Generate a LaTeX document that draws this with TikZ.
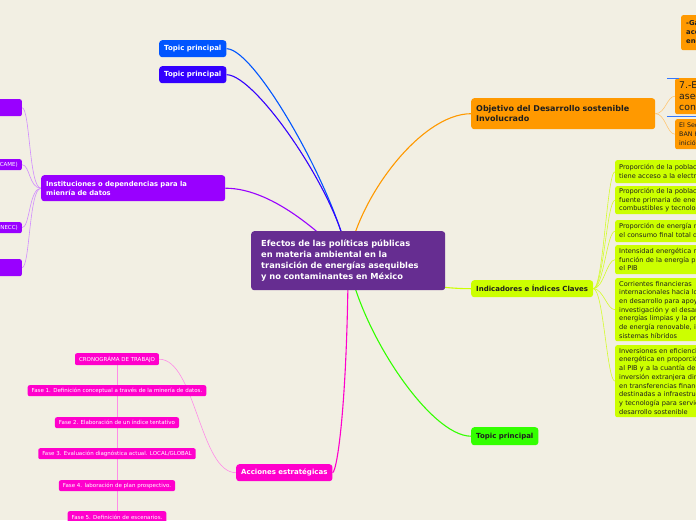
\documentclass[tikz,border=0pt]{standalone}
\usepackage{fontspec}
\setmainfont{DejaVu Sans}
\usetikzlibrary{positioning}
\pgfdeclarelayer{background}
\pgfsetlayers{background,main}

\definecolor{paper}{RGB}{242,239,227}
\definecolor{rootpurple}{RGB}{102,45,145}
\definecolor{topicblue}{RGB}{0,85,255}
\definecolor{topicindigo}{RGB}{51,0,255}
\definecolor{instpurple}{RGB}{153,0,255}
\definecolor{accmagenta}{RGB}{255,0,204}
\definecolor{sdgorange}{RGB}{255,153,0}
\definecolor{indlime}{RGB}{204,255,0}
\definecolor{topicgreen}{RGB}{51,255,0}
\definecolor{darktext}{RGB}{30,30,30}

\newcommand{\fs}[2]{\fontsize{#1}{#2}\selectfont}

\tikzset{
  box/.style={rounded corners=3pt, anchor=north west, align=left, inner ysep=0pt},
  root/.style={box, fill=rootpurple, text=white, inner xsep=10pt, font=\bfseries\fs{8.3}{10.8}},
  topic/.style={box, inner xsep=5pt, minimum height=17pt, font=\bfseries\fs{7}{9}},
  instleaf/.style={box, rounded corners=2pt, anchor=north east, inner xsep=4pt, minimum height=11pt,
    fill=instpurple, text=white, font=\fs{5.5}{6.5}},
  phase/.style={box, rounded corners=2pt, anchor=north, inner xsep=4pt, minimum height=11pt,
    fill=accmagenta, text=white, font=\fs{5.5}{6.5}},
  indleaf/.style={box, rounded corners=2pt, inner xsep=4pt, text width=150pt,
    fill=indlime, text=darktext, font=\fs{6.6}{8.7}},
  sdgleaf/.style={box, rounded corners=2pt, inner xsep=4pt, text width=90pt,
    fill=sdgorange, text=darktext},
  branch/.style={line width=1.1pt},
  twig/.style={line width=0.6pt},
}

\begin{document}
\begin{tikzpicture}[x=1pt, y=1pt]
  \useasboundingbox (0,0) rectangle (696,-520);

  % centre
  \node[root, text width=174pt, minimum height=59pt] (efectos) at (251,-231)
    {Efectos de las políticas públicas\\en materia ambiental en la\\transición de energías asequibles\\y no contaminantes en México};

  % main topics
  \node[topic, fill=topicblue, text=white] (topicA) at (159,-40) {Topic principal};
  \node[topic, fill=topicindigo, text=white] (topicB) at (159,-66) {Topic principal};
  \node[topic, fill=instpurple, text=white, text width=174pt, minimum height=26pt,
    font=\bfseries\fs{6.8}{9}] (inst) at (41,-175) {Instituciones o dependencias para la\\mienría de datos};
  \node[topic, fill=accmagenta, text=white] (acciones) at (236,-464) {Acciones estratégicas};
  \node[topic, fill=sdgorange, text=darktext, text width=174pt, minimum height=31pt,
    font=\bfseries\fs{8}{10.3}] (objetivo) at (471,-98) {Objetivo del Desarrollo sostenible\\Involucrado};
  \node[topic, fill=indlime, text=darktext] (indicadores) at (471,-280) {Indicadores e Índices Claves};
  \node[topic, fill=topicgreen, text=darktext, minimum height=18pt] (topicC) at (471,-427) {Topic principal};

  % institutions
  \node[instleaf, minimum width=80pt, minimum height=17pt] (instA) at (22,-99) {};
  \node[instleaf] (instB) at (22,-159) {Comisión Ambiental de la Megalópolis (CAME)};
  \node[instleaf] (instC) at (22,-222) {Instituto Nacional de Ecología y Cambio Climático (INECC)};
  \node[instleaf, minimum width=80pt, minimum height=17pt] (instD) at (22,-259) {};

  % phases
  \node[phase, minimum height=12pt] (crono) at (117,-353) {CRONOGRÁMA DE TRABAJO};
  \node[phase] (fase1) at (117,-385) {Fase 1. Definición conceptual a través de la minería de datos.};
  \node[phase] (fase2) at (117,-417) {Fase 2. Elaboración de un índice tentativo};
  \node[phase] (fase3) at (117,-448) {Fase 3. Evaluación diagnóstica actual. LOCAL/GLOBAL};
  \node[phase] (fase4) at (117,-480) {Fase 4. laboración de plan prospectivo.};
  \node[phase, minimum height=12pt] (fase5) at (117,-511) {Fase 5. Definición de escenarios.};

  % indicators
  \node[indleaf, minimum height=23pt] (indA) at (615,-160)
    {Proporción de la población que\\tiene acceso a la electricidad};
  \node[indleaf, minimum height=28pt] (indB) at (615,-186)
    {Proporción de la población cuya\\fuente primaria de energía son\\combustibles y tecnologías limpios};
  \node[indleaf, minimum height=22pt] (indC) at (615,-220)
    {Proporción de energía renovable en\\el consumo final total de energía};
  \node[indleaf, minimum height=29pt] (indD) at (615,-245)
    {Intensidad energética medida en\\función de la energía primaria y\\el PIB};
  \node[indleaf, minimum height=63pt] (indE) at (615,-278)
    {Corrientes financieras\\internacionales hacia los países\\en desarrollo para apoyar la\\investigación y el desarrollo de\\energías limpias y la producción\\de energía renovable, incluidos los\\sistemas híbridos};
  \node[indleaf, minimum height=72pt] (indF) at (615,-345)
    {Inversiones en eficiencia\\energética en proporción\\al PIB y a la cuantía de la\\inversión extranjera directa\\en transferencias financieras\\destinadas a infraestructura\\y tecnología para servicios de\\desarrollo sostenible};

  % sdg
  \node[sdgleaf, minimum height=35pt, inner xsep=5pt, font=\bfseries\fs{6.8}{8.8}] (garantizar) at (681,-15)
    {-Garantizar el\\acceso a una\\energía asequible};
  \node[sdgleaf, minimum height=36pt, font=\fs{9.3}{11}] (ods7) at (675,-78)
    {7.-Energía\\asequible y no\\contaminante};
  \node[sdgleaf, minimum height=30pt, font=\fs{6.3}{8.7}] (ban) at (675,-119)
    {El Secretario General\\BAN Ki-moon\\inició la iniciativa};

  \begin{pgfonlayer}{background}
    \fill[paper] (0,0) rectangle (696,-520);
    % branches from the centre
    \draw[branch, topicblue] (efectos.center) .. controls +(-8,60) and +(30,0) .. (topicA.east);
    \draw[branch, topicindigo] (efectos.center) .. controls +(-6,60) and +(30,0) .. (topicB.east);
    \draw[branch, instpurple] (efectos.center) .. controls +(-20,20) and +(50,0) .. (inst.east);
    \draw[branch, sdgorange] (efectos.center) .. controls +(8,60) and +(-51,0) .. (objetivo.west);
    \draw[branch, indlime] (efectos.center) .. controls +(52,-25) and +(-21,0) .. (indicadores.west);
    \draw[branch, topicgreen] (efectos.center) .. controls +(12,-70) and +(-41,0) .. (topicC.west);
    \draw[branch, accmagenta] (efectos.center) .. controls +(-1,-140) and +(5,3) .. (acciones.east);

    % twigs
    \foreach \leaf in {instA,instB,instC,instD}
      \draw[twig, instpurple!45] (inst.west) .. controls +(-12,0) and +(8,0) .. (\leaf.east);
    \foreach \leaf in {indA,indB,indC,indD,indE,indF}
      \draw[twig, indlime!80!paper] (indicadores.east) .. controls +(10,0) and +(-8,0) .. (\leaf.west);
    \foreach \leaf in {ods7,ban}
      \draw[twig, sdgorange!55] (objetivo.east) .. controls +(10,0) and +(-8,0) .. (\leaf.west);
    \draw[twig, accmagenta!45] (acciones.west) .. controls +(-36,0) and +(36,0) .. (crono.east);
    \draw[twig, accmagenta!45] (crono) -- (fase1) -- (fase2) -- (fase3) -- (fase4) -- (fase5);
  \end{pgfonlayer}

  % boundary marks
  \draw[line width=0.8pt, topicblue!80] ([xshift=-8pt]ods7.north west) -- ([xshift=4pt]ods7.north west);
  \draw[line width=0.8pt, topicblue!80] ([xshift=-8pt, yshift=-2pt]ods7.south west) -- ([yshift=-2pt]ods7.south east);
\end{tikzpicture}
\end{document}
